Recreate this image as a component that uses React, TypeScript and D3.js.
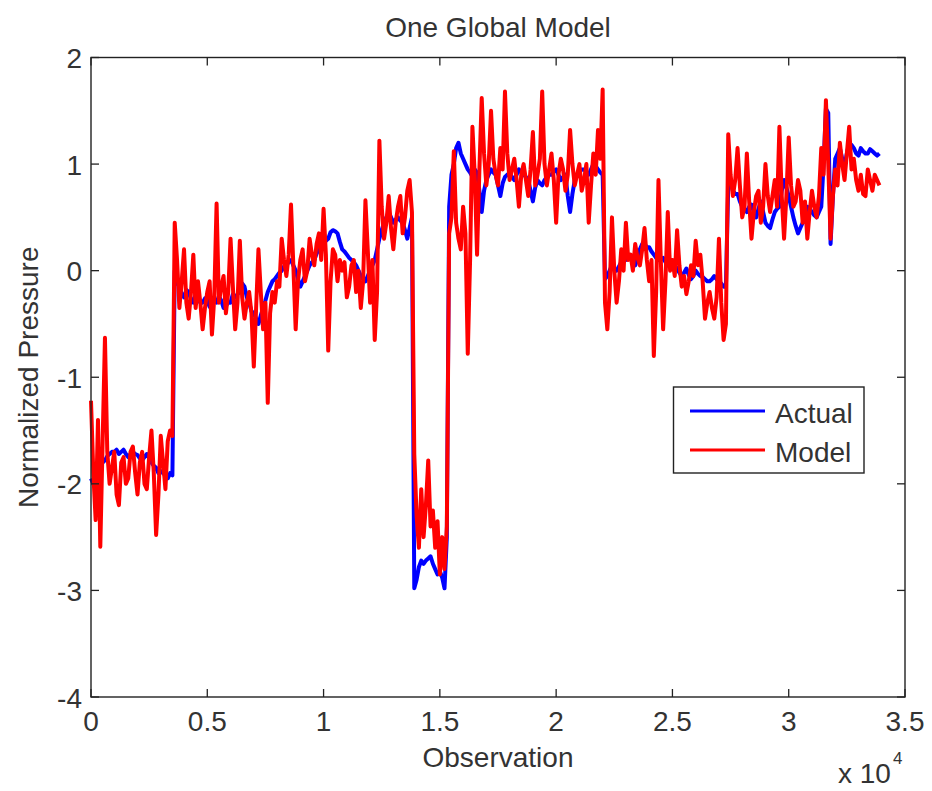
import React from 'react';
import * as d3 from 'd3';

const STEP = 100; // observations between samples

const actual: number[] = [
  // 0 - 3500
  -1.95, -2.0, -1.98, -1.9, -1.85, -1.8, -1.78, -1.74, -1.72, -1.7, -1.70, -1.68, -1.72, -1.7, -1.68, -1.72, -1.75, -1.72,
  -1.70, -1.72, -1.73, -1.76, -1.78, -1.75, -1.72, -1.76, -1.80, -1.83, -1.85, -1.9, -1.88, -1.9, -1.92, -1.95, -1.90, -1.92,
  // 3600 - 13800
  0.0, -0.1, -0.15, -0.22, -0.25, -0.18, -0.2, -0.27, -0.3, -0.22, -0.25, -0.3, -0.3, -0.26, -0.28, -0.34, -0.32, -0.28,
  -0.3, -0.24, -0.28, -0.35, -0.33, -0.3, -0.3, -0.22, -0.25, -0.22, -0.2, -0.12, -0.15, -0.25, -0.3, -0.38, -0.4, -0.45,
  -0.5, -0.42, -0.35, -0.28, -0.2, -0.15, -0.1, -0.08, -0.05, -0.02, 0.0, 0.04, 0.05, 0.08, 0.1, 0.05, 0.0, -0.08,
  -0.15, -0.1, -0.05, 0.0, 0.05, 0.08, 0.1, 0.16, 0.2, 0.22, 0.25, 0.28, 0.3, 0.36, 0.38, 0.37, 0.35, 0.27,
  0.2, 0.18, 0.15, 0.12, 0.1, 0.08, 0.05, 0.0, -0.05, -0.08, -0.1, -0.05, 0.0, 0.05, 0.1, 0.2, 0.3, 0.38,
  0.45, 0.5, 0.55, 0.5, 0.45, 0.48, 0.5, 0.47, 0.45, 0.38, 0.3, 0.4, 0.5,
  // 13900 - 15300
  -2.98, -2.9, -2.78, -2.72, -2.75, -2.72, -2.7, -2.68, -2.75, -2.8, -2.85, -2.82, -2.88, -2.98, -2.5,
  // 15400 - 22000
  0.6, 0.9, 1.0, 1.15, 1.2, 1.1, 1.05, 1.0, 0.95, 0.92, 0.88, 0.95, 0.92, 0.75, 0.55, 0.75, 0.85, 0.9,
  0.95, 0.92, 0.9, 0.8, 0.7, 0.82, 0.88, 0.9, 0.92, 0.88, 0.85, 0.9, 0.95, 0.92, 0.9, 0.88, 0.85, 0.75,
  0.65, 0.78, 0.85, 0.82, 0.8, 0.85, 0.88, 0.9, 0.9, 0.93, 0.95, 0.9, 0.85, 0.88, 0.9, 0.7, 0.55, 0.72,
  0.85, 0.9, 0.92, 0.95, 0.95, 0.92, 0.9, 0.95, 1.0, 0.98, 0.95, 0.92, 0.9,
  // 22100 - 27300
  -0.08,
  -0.05, 0.0, 0.05, 0.02, 0.0, 0.04, 0.08, 0.1, 0.1, 0.14, 0.12, 0.08, 0.05, 0.12, 0.2, 0.25, 0.25, 0.22,
  0.22, 0.18, 0.15, 0.12, 0.1, 0.1, 0.12, 0.08, 0.05, 0.06, 0.08, 0.05, 0.02, -0.02, -0.05, -0.02, 0.02, -0.04,
  -0.08, -0.05, 0.0, -0.03, -0.05, -0.06, -0.08, -0.1, -0.1, -0.08, -0.05, -0.08, -0.1, -0.12, -0.15,
  -0.15,
  // 27400 - 33900
  0.8, 0.85, 0.75, 0.72, 0.72, 0.65, 0.6, 0.58, 0.55, 0.6, 0.62, 0.55, 0.5, 0.58, 0.65, 0.55, 0.45, 0.42,
  0.4, 0.48, 0.55, 0.58, 0.6, 0.75, 0.85, 0.78, 0.7, 0.6, 0.5, 0.42, 0.35, 0.4, 0.45, 0.52, 0.6, 0.58,
  0.55, 0.52, 0.5, 0.55, 0.6, 1.0, 1.52, 1.48, 0.25, 0.7, 1.05, 1.1, 1.15, 1.05, 0.98, 1.1, 1.2, 1.18,
  1.15, 1.1, 1.08, 1.15, 1.12, 1.1, 1.1, 1.14, 1.12, 1.1, 1.08, 1.1,
];

const model: number[] = [
  // 0 - 3500
  -1.22, -1.9, -2.34, -1.4, -2.59, -1.6, -0.63, -1.7, -2.0, -1.85, -1.7, -2.1, -2.2, -1.8, -1.75, -2.0, -1.95, -1.7,
  -1.65, -1.9, -2.1, -1.8, -1.7, -2.0, -2.05, -1.75, -1.5, -1.9, -2.48, -2.1, -1.55, -1.8, -2.05, -1.6, -1.5, -1.55,
  // 3600 - 13800
  0.45, 0.1, -0.35, -0.1, 0.2, -0.3, -0.45, -0.2, 0.15, -0.35, -0.1, -0.3, -0.55, -0.35, -0.2, -0.1, -0.6, -0.25,
  0.63, -0.3, -0.15, -0.05, -0.4, -0.2, 0.3, -0.15, -0.55, -0.3, 0.28, -0.25, -0.45, -0.3, -0.2, -0.4, -0.9, -0.35,
  0.2, -0.2, -0.55, -0.3, -1.24, -0.4, -0.2, -0.3, -0.1, -0.15, 0.3, 0.1, -0.05, 0.15, 0.62, 0.05, -0.55, -0.1,
  0.1, 0.2, -0.1, 0.0, 0.3, 0.15, 0.05, 0.25, 0.35, 0.1, 0.58, 0.15, -0.75, -0.1, 0.2, 0.15, -0.1, 0.1,
  0.0, 0.08, -0.25, -0.15, 0.05, 0.1, -0.2, 0.0, -0.35, -0.1, 0.66, 0.2, -0.3, 0.1, -0.65, -0.2, 1.22, 0.6,
  0.3, 0.45, 0.7, 0.4, 0.2, 0.45, 0.6, 0.7, 0.35, 0.5, 0.75, 0.85, 0.55,
  // 13900 - 15300
  -1.72, -2.3, -2.6, -2.05, -2.5, -2.2, -1.78, -2.4, -2.25, -2.6, -2.35, -2.85, -2.5, -2.8, -2.4,
  // 15400 - 22000
  0.35, 0.5, 1.12, 0.45, 0.3, 0.2, 0.6, 0.35, -0.78, 0.1, 1.35, 0.9, 0.15, 0.95, 1.62, 1.1, 0.8, 1.0,
  1.5, 1.05, 0.9, 0.8, 1.15, 0.95, 1.68, 1.1, 0.85, 0.95, 1.05, 0.85, 0.6, 0.9, 1.0, 0.85, 0.7, 0.95,
  1.3, 0.8, 0.9, 1.05, 1.68, 1.0, 0.8, 0.95, 1.1, 0.85, 0.45, 0.9, 1.05, 0.95, 0.75, 0.9, 1.32, 1.0,
  0.8, 0.9, 1.0, 0.75, 0.85, 1.0, 0.45, 0.8, 1.1, 0.9, 1.32, 1.05, 1.7,
  // 22100 - 27300
  -0.3,
  -0.55, -0.2, 0.5, 0.0, -0.3, -0.1, 0.2, 0.0, 0.45, 0.1, 0.15, 0.0, 0.25, 0.12, 0.05, 0.2, 0.4, 0.1,
  -0.1, 0.1, -0.8, -0.2, 0.85, 0.1, -0.55, -0.1, 0.55, 0.0, 0.1, -0.05, 0.38, 0.05, -0.15, -0.05, -0.22, -0.1,
  0.05, -0.05, 0.28, 0.05, 0.15, -0.1, -0.45, -0.3, -0.2, -0.35, -0.45, -0.25, 0.3, -0.3, -0.65,
  -0.5,
  // 27400 - 33900
  1.28, 0.9, 0.7, 0.85, 1.15, 0.8, 0.5, 0.6, 1.1, 0.65, 0.3, 0.55, 0.7, 0.75, 0.45, 0.6, 1.0, 0.7,
  0.55, 0.7, 0.85, 0.6, 1.35, 0.7, 0.3, 0.7, 1.25, 0.8, 0.6, 0.65, 0.85, 0.75, 0.45, 0.65, 0.3, 0.55,
  0.75, 0.6, 0.5, 0.7, 1.15, 0.9, 1.6, 1.0, 0.3, 0.7, 0.95, 0.8, 1.2, 1.0, 0.85, 1.1, 1.35, 0.95,
  1.05, 0.85, 0.75, 0.9, 0.72, 0.7, 0.95, 0.85, 0.75, 0.9, 0.85, 0.8,
];

const xTicks = [0, 5000, 10000, 15000, 20000, 25000, 30000, 35000];
const xTickLabels = ['0', '0.5', '1', '1.5', '2', '2.5', '3', '3.5'];
const yTicks = [-4, -3, -2, -1, 0, 1, 2];
const seriesNames = ['Actual', 'Model'];
const seriesColors = ['#0000ff', '#ff0000'];

const FONT = '"Liberation Sans", Arial, Helvetica, sans-serif';
const TXT = '#333333';

export default function App() {
  const W = 932, H = 791;
  const L = 91, T = 57.5, R = 905, B = 697;
  const x = d3.scaleLinear().domain([0, 35000]).range([L, R]);
  const y = d3.scaleLinear().domain([-4, 2]).range([B, T]);
  const line = d3.line<number>().x((_, i) => x(i * STEP)).y((d) => y(d));
  const tl = 8;
  const fs = 28;

  const legX = 673.5, legY = 387, legW = 190.5, legH = 86;

  return (
    <svg width={W} height={H} style={{ position: 'absolute', left: 0, top: 0, background: '#fff' }} fontFamily={FONT}>
      <rect x={0} y={0} width={W} height={H} fill="#fff" />
      {/* data */}
      <g>
        <path d={line(actual) || ''} fill="none" stroke={seriesColors[0]} strokeWidth={4} strokeLinejoin="round" />
        <path d={line(model) || ''} fill="none" stroke={seriesColors[1]} strokeWidth={4} strokeLinejoin="round" />
      </g>
      {/* frame */}
      <rect x={L} y={T} width={R - L} height={B - T} fill="none" stroke="#222" strokeWidth={1.4} />
      {/* x ticks */}
      {xTicks.map((t, i) => (
        <g key={'x' + i}>
          <line x1={x(t)} x2={x(t)} y1={B} y2={B - tl} stroke="#222" strokeWidth={1.3} />
          <line x1={x(t)} x2={x(t)} y1={T} y2={T + tl} stroke="#222" strokeWidth={1.3} />
          <text x={x(t)} y={731} textAnchor="middle" fontSize={fs} fill={TXT}>{xTickLabels[i]}</text>
        </g>
      ))}
      {/* y ticks */}
      {yTicks.map((t, i) => (
        <g key={'y' + i}>
          <line x1={L} x2={L + tl} y1={y(t)} y2={y(t)} stroke="#222" strokeWidth={1.3} />
          <line x1={R} x2={R - tl} y1={y(t)} y2={y(t)} stroke="#222" strokeWidth={1.3} />
          <text x={82} y={y(t) + 10.5} textAnchor="end" fontSize={fs} fill={TXT}>{String(t)}</text>
        </g>
      ))}
      {/* exponent */}
      <text x={838} y={783} fontSize={fs} fill={TXT}>x 10</text>
      <text x={893} y={764} fontSize={17} fill={TXT}>4</text>
      {/* labels */}
      <text x={(L + R) / 2} y={36.5} textAnchor="middle" fontSize={fs} fill={TXT}>One Global Model</text>
      <text x={(L + R) / 2} y={767} textAnchor="middle" fontSize={fs} fill={TXT}>Observation</text>
      <text transform={`translate(38, ${(T + B) / 2}) rotate(-90)`} textAnchor="middle" fontSize={fs} fill={TXT}>Normalized Pressure</text>
      {/* legend */}
      <rect x={legX} y={legY} width={legW} height={legH} fill="#fff" stroke="#222" strokeWidth={1.4} />
      {seriesNames.map((n, i) => (
        <g key={n}>
          <line x1={690} x2={765} y1={411 + i * 39} y2={411 + i * 39} stroke={seriesColors[i]} strokeWidth={3} />
          <text x={775} y={423 + i * 38.5} fontSize={fs} fill={TXT}>{n}</text>
        </g>
      ))}
    </svg>
  );
}
